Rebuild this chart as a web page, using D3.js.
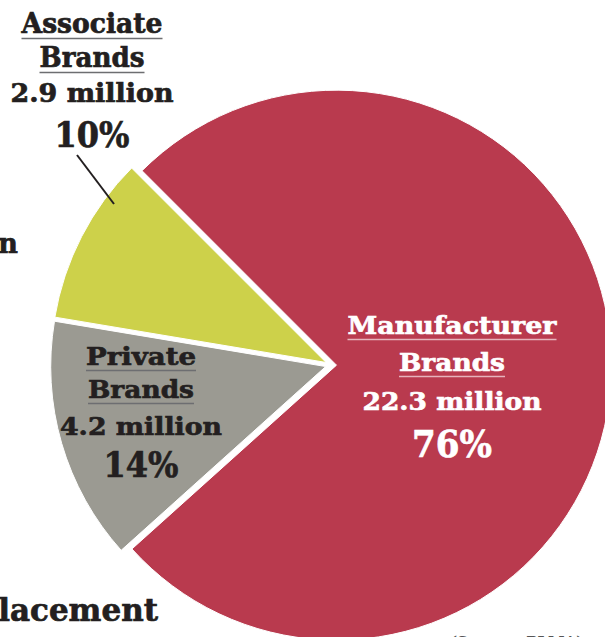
<!DOCTYPE html>
<html>
<head>
<meta charset="utf-8">
<script src="https://cdn.jsdelivr.net/npm/d3@7"></script>
<style>
  html, body { margin: 0; padding: 0; background: #ffffff; }
  svg { display: block; }
  text { font-family: "DejaVu Serif", "Liberation Serif", serif; font-weight: bold; }
</style>
</head>
<body>
<svg id="chart" width="605" height="637"></svg>
<script>
// Brand share of units
const categories = ["Manufacturer Brands", "Private Brands", "Associate Brands"];
const nameLines = [["Manufacturer", "Brands"], ["Private", "Brands"], ["Associate", "Brands"]];
const valuesMillions = [22.3, 4.2, 2.9];
const sharePct = [76, 14, 10];
const sliceColors = ["#b93a4e", "#9b9a92", "#cdd14a"];

const svg = d3.select("#chart");

// pie geometry
const cx = 331, cy = 365, radius = 275, explode = 5.5;

const pie = d3.pie()
  .sort(null)
  .value(d => d.value)
  .startAngle(-Math.PI / 4)
  .endAngle(-Math.PI / 4 + 2 * Math.PI);

const arc = d3.arc().innerRadius(0).outerRadius(radius);

const data = categories.map((c, i) => ({ name: c, value: valuesMillions[i], i }));
const arcs = pie(data);

const g = svg.append("g").attr("transform", `translate(${cx},${cy})`);

g.selectAll("path.slice")
  .data(arcs)
  .join("path")
  .attr("class", "slice")
  .attr("d", arc)
  .attr("fill", d => sliceColors[d.data.i])
  .attr("stroke", "#ffffff")
  .attr("stroke-width", 1)
  .attr("transform", d => {
    const a = (d.startAngle + d.endAngle) / 2;
    return `translate(${explode * Math.sin(a)},${-explode * Math.cos(a)})`;
  });

// label blocks: name lines underlined, value line, share line
const labelLayout = [
  { x: 452, base: [334, 371, 410, 457], widths: [209, 106, 179, 80], sizes: [25, 25, 25, 37], fill: "#ffffff", rule: "#e6b3bc" },
  { x: 141, base: [365, 398, 435, 477], widths: [110, 106, 162, 75], sizes: [25, 25, 25, 35], fill: "#231f20", rule: "#6d6e71" },
  { x: 92,  base: [33, 67, 102, 147],   widths: [141, 105, 163, 75], sizes: [27, 27, 26, 36], fill: "#231f20", rule: "#6d6e71" }
];

arcs.forEach(d => {
  const i = d.data.i;
  const L = labelLayout[i];
  const lines = [nameLines[i][0], nameLines[i][1], `${valuesMillions[i]} million`, `${sharePct[i]}%`];
  lines.forEach((t, k) => {
    svg.append("text")
      .attr("x", L.x)
      .attr("y", L.base[k])
      .attr("text-anchor", "middle")
      .attr("font-size", L.sizes[k])
      .attr("fill", L.fill)
      .attr("stroke", L.fill)
      .attr("stroke-width", 0.7)
      .attr("textLength", L.widths[k])
      .attr("lengthAdjust", "spacingAndGlyphs")
      .text(t);
    if (k < 2) {
      svg.append("line")
        .attr("x1", L.x - L.widths[k] / 2)
        .attr("x2", L.x + L.widths[k] / 2)
        .attr("y1", L.base[k] + 5.5)
        .attr("y2", L.base[k] + 5.5)
        .attr("stroke", L.rule)
        .attr("stroke-width", 1.6);
    }
  });
});

// leader from the Associate label into its slice
svg.append("line")
  .attr("x1", 77).attr("y1", 155)
  .attr("x2", 114).attr("y2", 204)
  .attr("stroke", "#231f20")
  .attr("stroke-width", 2);

// neighbouring text running in from the edges
svg.append("text")
  .attr("x", 18).attr("y", 253)
  .attr("text-anchor", "end")
  .attr("font-size", 27)
  .attr("fill", "#231f20")
  .attr("stroke", "#231f20")
  .attr("stroke-width", 0.7)
  .text("million");

svg.append("text")
  .attr("x", 158).attr("y", 621)
  .attr("text-anchor", "end")
  .attr("font-size", 31)
  .attr("fill", "#231f20")
  .attr("stroke", "#231f20")
  .attr("stroke-width", 0.7)
  .text("Replacement");

svg.append("text")
  .attr("x", 450).attr("y", 647)
  .attr("font-size", 15)
  .attr("font-weight", "normal")
  .attr("fill", "#555555")
  .text("(Source: PLMA)");
</script>
</body>
</html>
